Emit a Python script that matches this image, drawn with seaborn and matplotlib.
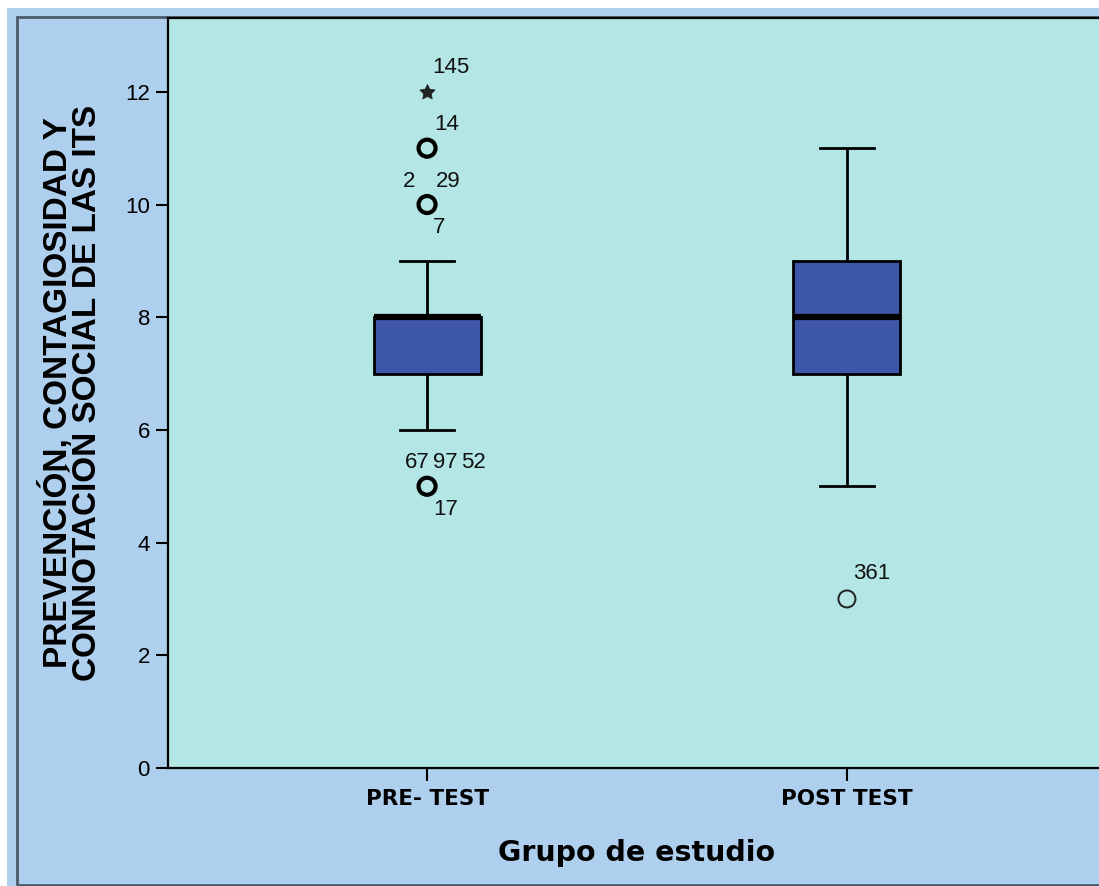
import numpy as np
import pandas as pd
import seaborn as sns
import matplotlib.pyplot as plt
from matplotlib.patches import Rectangle

# scores per group, as value / count tables
pre_values = [5, 6, 7, 8, 9, 10, 11, 12]
pre_counts = [4, 15, 50, 70, 30, 3, 2, 1]
post_values = [3, 5, 6, 7, 8, 9, 10, 11]
post_counts = [1, 10, 20, 40, 50, 40, 15, 5]

groups = ['PRE- TEST', 'POST TEST']

# case numbers shown next to the outliers
pre_outlier_values = [12, 11, 10, 10, 10, 5, 5, 5, 5]
pre_outlier_cases = ['145', '14', '2', '29', '7', '67', '97', '52', '17']
post_outlier_values = [3]
post_outlier_cases = ['361']

df = pd.DataFrame({
    'grupo': [groups[0]] * sum(pre_counts) + [groups[1]] * sum(post_counts),
    'valor': np.concatenate([np.repeat(pre_values, pre_counts),
                             np.repeat(post_values, post_counts)]),
})

plt.rcParams['font.family'] = ['Liberation Sans', 'DejaVu Sans']

W, H = 1099, 886
fig = plt.figure(figsize=(W / 100, H / 100), dpi=100, facecolor='white')

# outer SPSS style panel
fig.patches.append(Rectangle((7 / W, 0), 1.2, (H - 8) / H, transform=fig.transFigure,
                             facecolor='#aecfee', edgecolor='none', zorder=-10))
fig.patches.append(Rectangle((17 / W, 1 / H), 1.2, (H - 18) / H, transform=fig.transFigure,
                             facecolor='none', edgecolor='#4b5a68', lw=2, zorder=-9))

left, top, bottom, right = 168, 18, 768, 1106
ax = fig.add_axes([left / W, (H - bottom) / H, (right - left) / W, (bottom - top) / H])
ax.set_facecolor('#b4e6e6')

sns.boxplot(data=df, x='grupo', y='valor', order=groups, ax=ax,
            width=0.255, color='#3e56a7', linecolor='black', linewidth=2,
            showfliers=False, saturation=1,
            medianprops=dict(color='black', linewidth=4.5))

# outliers: circles for mild, star for extreme
for i, vals in enumerate([pre_values, post_values]):
    data = df.loc[df['grupo'] == groups[i], 'valor'].to_numpy()
    q1, q3 = np.percentile(data, [25, 75])
    iqr = q3 - q1
    out = sorted(set(v for v in data if v < q1 - 1.5 * iqr or v > q3 + 1.5 * iqr))
    for v in out:
        n = int(np.sum(data == v))
        if v > q3 + 3 * iqr or v < q1 - 3 * iqr:
            ax.scatter([i], [v], marker=(5, 1, 0), s=130, facecolor='#222222',
                       edgecolor='#222222', linewidths=0.6, zorder=5)
        else:
            ax.scatter([i], [v], marker='o', s=150, facecolor='none',
                       edgecolor='black' if n > 1 else '#222222',
                       linewidths=3 if n > 1 else 1.4, zorder=5)

# label offsets in pixels (dx, dy, ha)
pre_offsets = [(5, 24, 'left'), (7, 24, 'left'), (-12, 23, 'right'), (9, 23, 'left'),
               (6, -23, 'left'), (-22, 24, 'left'), (6, 24, 'left'), (34, 24, 'left'),
               (6, -23, 'left')]
post_offsets = [(6, 25, 'left')]
for i, (vals, cases, offs) in enumerate([(pre_outlier_values, pre_outlier_cases, pre_offsets),
                                         (post_outlier_values, post_outlier_cases, post_offsets)]):
    for v, c, (dx, dy, ha) in zip(vals, cases, offs):
        ax.annotate(c, (i, v), xytext=(dx * 0.72, dy * 0.72), textcoords='offset points',
                    ha=ha, va='center', fontsize=16, color='#111111')

ax.set_xlim(-0.617, 1.617)
ax.set_ylim(0, 13.31)
ax.set_yticks(range(0, 13, 2))
ax.tick_params(axis='y', length=9, width=1.5, pad=4, labelsize=16, direction='out')
ax.tick_params(axis='x', length=9, width=1.5, pad=6, direction='out')
for lab in ax.get_xticklabels():
    lab.set_fontfamily('DejaVu Sans')
    lab.set_fontweight('bold')
    lab.set_fontsize(15.5)
for sp in ax.spines.values():
    sp.set_linewidth(1.6)
    sp.set_color('black')

ax.set_xlabel('')
ax.set_ylabel('')
ax.text(0.5, -(853 - bottom) / (bottom - top), 'Grupo de estudio', transform=ax.transAxes,
        ha='center', va='center', fontsize=20.5, fontweight='bold', family='DejaVu Sans')
ax.text((71 - left) / (right - left), 0.5,
        'PREVENCIÓN, CONTAGIOSIDAD Y\nCONNOTACIÓN SOCIAL DE LAS ITS',
        transform=ax.transAxes, rotation=90, ha='center', va='center',
        fontsize=24, fontweight='bold', linespacing=0.95, multialignment='center')

fig.savefig('out.png', dpi=100, facecolor='white')
